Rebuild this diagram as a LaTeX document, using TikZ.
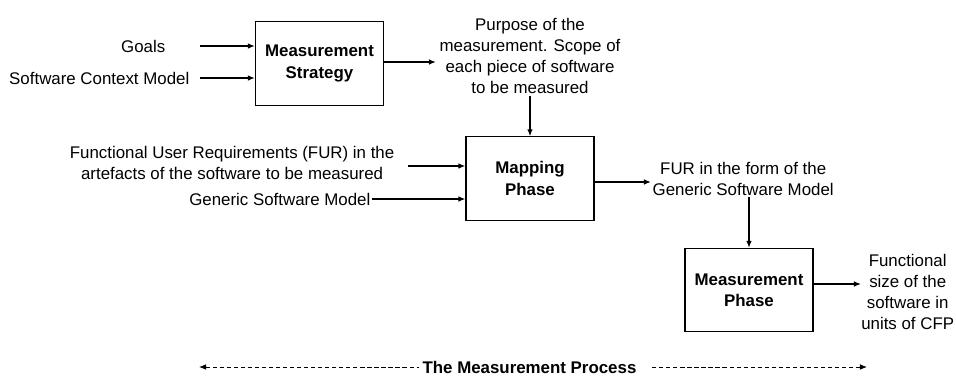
\documentclass[tikz,border=0pt]{standalone}
\usepackage{fontspec}
\setmainfont{Liberation Sans}
\usepackage{tikz}
\usetikzlibrary{arrows.meta}

\begin{document}
\begin{tikzpicture}[x=0.025cm, y=-0.025cm,
        every node/.style={font=\fontsize{12}{15}\selectfont},
        phase/.style={draw, line width=0.8pt, minimum width=3.2cm, minimum height=2.08cm,
                      align=center, font=\fontsize{12}{15}\selectfont\bfseries},
        lbl/.style={inner sep=1pt, align=center},
        flow/.style={-{Latex[length=5pt, width=4pt]}, line width=1.4pt},
        thinflow/.style={-{Latex[length=5pt, width=4pt]}, line width=0.9pt}]

        % Fixed frame of the drawing
        \useasboundingbox (0,0) rectangle (956,377);

        % === Measurement strategy ===
        \node[phase] (strat) at (319.5,63.5) {Measurement\\Strategy};
        \node[lbl, anchor=east] (goals) at (167,46) {Goals};
        \node[lbl, anchor=east] (ctx) at (191,78) {Software Context Model};
        \coordinate (goalsin) at (200,46);
        \coordinate (ctxin) at (200,78);
        \draw[flow] (goalsin) -- (goalsin -| strat.west);
        \draw[flow] (ctxin) -- (ctxin -| strat.west);

        % Outcome of the strategy
        \node[lbl] (purpose) at (530,56) {Purpose of the\\measurement. Scope of\\each piece of software\\to be measured};
        \coordinate (purposein) at (436,62);
        \draw[flow] (strat.east |- purposein) -- (purposein);

        % === Mapping phase ===
        \node[phase] (map) at (530,178.5) {Mapping\\Phase};
        \draw[flow] (purpose.south) -- (map.north);
        \node[lbl, anchor=east] (fur) at (396,163) {Functional User Requirements (FUR) in the\\artefacts of the software to be measured};
        \node[lbl, anchor=east] (gsm) at (372,199) {Generic Software Model};
        \coordinate (furin) at (408,166);
        \draw[flow] (furin) -- (furin -| map.west);
        \draw[thinflow] (gsm.east) -- (gsm.east -| map.west);

        % FUR in the generic model
        \node[lbl, anchor=west] (furgsm) at (651,179) {FUR in the form of the\\Generic Software Model};
        \draw[flow] (map.east |- 0,182) -- (furgsm.west |- 0,182);

        % === Measurement phase ===
        \node[phase] (meas) at (749,290) {Measurement\\Phase};
        \draw[thinflow] (furgsm.south -| meas.north) -- (meas.north);
        \node[inner sep=0pt, align=center, anchor=west] (size) at (861,292) {Functional\\size of the\\software in\\units of CFP};
        \coordinate (sizein) at (861,284);
        \draw[thinflow] (meas.east |- sizein) -- (sizein);

        % === Span of the whole process ===
        \node[inner sep=2pt, font=\fontsize{12}{15}\selectfont\bfseries] (process) at (529.5,367) {The Measurement Process};
        \coordinate (procstart) at (199,367);
        \coordinate (procend) at (867,367);
        \draw[dashed, dash pattern=on 3pt off 2pt, line width=0.6pt, {Latex[length=5pt, width=4pt]}-] (procstart) -- (process.west);
        \draw[dashed, dash pattern=on 3pt off 2pt, line width=0.6pt, -{Latex[length=5pt, width=4pt]}] ([xshift=9pt]process.east) -- (procend);

\end{tikzpicture}
\end{document}
